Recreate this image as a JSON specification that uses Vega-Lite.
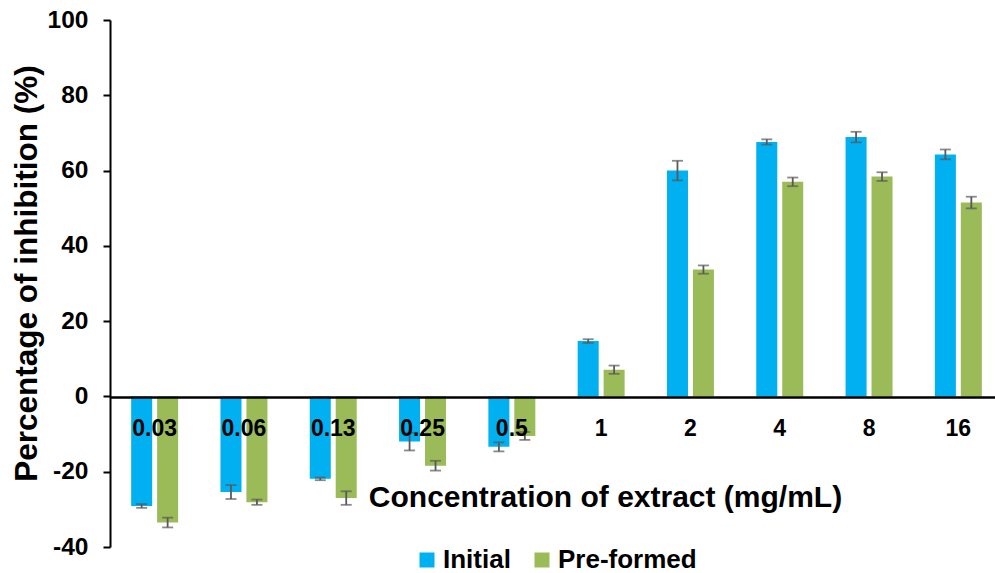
{
  "$schema": "https://vega.github.io/schema/vega-lite/v6.json",
  "width": 893,
  "height": 527,
  "autosize": {"type": "none"},
  "padding": {"left": 110, "top": 20, "right": 0, "bottom": 26},
  "background": "white",
  "config": {
    "view": {"stroke": null},
    "font": "Liberation Sans",
    "axis": {"grid": false, "labelFont": "Liberation Sans", "titleFont": "Liberation Sans", "labelFontWeight": "bold", "titleFontWeight": "bold", "labelColor": "black", "titleColor": "black", "domainColor": "black", "tickColor": "black"}
  },
  "data": {
    "values": [
      {"conc": "0.03", "group": "Initial", "value": -29.1, "lo": -29.6, "hi": -28.6},
      {"conc": "0.03", "group": "Pre-formed", "value": -33.5, "lo": -34.8, "hi": -32.2},
      {"conc": "0.06", "group": "Initial", "value": -25.4, "lo": -27.25, "hi": -23.55},
      {"conc": "0.06", "group": "Pre-formed", "value": -28.1, "lo": -28.8, "hi": -27.4},
      {"conc": "0.13", "group": "Initial", "value": -21.9, "lo": -22.25, "hi": -21.55},
      {"conc": "0.13", "group": "Pre-formed", "value": -27.0, "lo": -28.8, "hi": -25.2},
      {"conc": "0.25", "group": "Initial", "value": -12.0, "lo": -14.35, "hi": -9.65},
      {"conc": "0.25", "group": "Pre-formed", "value": -18.4, "lo": -19.7, "hi": -17.1},
      {"conc": "0.5", "group": "Initial", "value": -13.4, "lo": -14.6, "hi": -12.2},
      {"conc": "0.5", "group": "Pre-formed", "value": -10.5, "lo": -11.55, "hi": -9.45},
      {"conc": "1", "group": "Initial", "value": 14.7, "lo": 14.2, "hi": 15.2},
      {"conc": "1", "group": "Pre-formed", "value": 7.1, "lo": 6.0, "hi": 8.2},
      {"conc": "2", "group": "Initial", "value": 60.0, "lo": 57.4, "hi": 62.6},
      {"conc": "2", "group": "Pre-formed", "value": 33.7, "lo": 32.6, "hi": 34.8},
      {"conc": "4", "group": "Initial", "value": 67.6, "lo": 66.9, "hi": 68.3},
      {"conc": "4", "group": "Pre-formed", "value": 57.0, "lo": 55.85, "hi": 58.15},
      {"conc": "8", "group": "Initial", "value": 68.9, "lo": 67.5, "hi": 70.3},
      {"conc": "8", "group": "Pre-formed", "value": 58.4, "lo": 57.25, "hi": 59.55},
      {"conc": "16", "group": "Initial", "value": 64.3, "lo": 63.0, "hi": 65.6},
      {"conc": "16", "group": "Pre-formed", "value": 51.5, "lo": 49.95, "hi": 53.05}
    ]
  },
  "encoding": {
    "x": {
      "field": "conc", "type": "nominal", "sort": null,
      "scale": {"paddingInner": 0.474, "paddingOuter": 0.237},
      "axis": {
        "title": "Concentration of extract (mg/mL)",
        "labelAngle": 0, "labelFontSize": 23, "labelPadding": 20,
        "tickSize": 0, "domainWidth": 2.5, "offset": -150, "zindex": 1,
        "titleFontSize": 30, "titleX": 495, "titleY": 85, "titleBaseline": "top",
        "titleAlign": "center"
      }
    },
    "xOffset": {"field": "group", "type": "nominal", "sort": ["Initial", "Pre-formed"], "scale": {"paddingInner": 0.19, "paddingOuter": 0}}
  },
  "layer": [
    {
      "mark": {"type": "bar"},
      "encoding": {
        "y": {
          "field": "value", "type": "quantitative",
          "scale": {"domain": [-40, 100], "nice": false, "zero": false},
          "axis": {
            "title": "Percentage of inhibition (%)",
            "values": [-40, -20, 0, 20, 40, 60, 80, 100],
            "labelExpr": "'' + datum.value",
            "labelFontSize": 24.5, "labelPadding": 15, "tickSize": 7, "domainWidth": 2, "tickWidth": 2,
            "titleFontSize": 31.5, "titleX": -83, "titleY": 253, "titleBaseline": "middle", "titleAlign": "center", "titleAngle": -90
          }
        },
        "color": {
          "field": "group", "type": "nominal",
          "sort": ["Initial", "Pre-formed"],
          "scale": {"domain": ["Initial", "Pre-formed"], "range": ["#00B0F0", "#9BBB59"]},
          "legend": {
            "title": null, "orient": "none", "direction": "horizontal",
            "legendX": 304, "legendY": 527,
            "symbolType": "square", "symbolSize": 225, "symbolStrokeWidth": 0,
            "labelFontSize": 26, "labelFontWeight": "bold", "labelColor": "black", "labelFont": "Liberation Sans",
            "labelOffset": 3, "columnPadding": 18
          }
        }
      }
    },
    {
      "mark": {"type": "rule", "color": "#595959", "strokeWidth": 1.8},
      "encoding": {
        "y": {"field": "lo", "type": "quantitative"},
        "y2": {"field": "hi"}
      }
    },
    {
      "mark": {"type": "tick", "color": "#595959", "thickness": 1.8, "size": 11, "orient": "horizontal"},
      "encoding": {
        "y": {"field": "lo", "type": "quantitative"}
      }
    },
    {
      "mark": {"type": "tick", "color": "#595959", "thickness": 1.8, "size": 11, "orient": "horizontal"},
      "encoding": {
        "y": {"field": "hi", "type": "quantitative"}
      }
    }
  ]
}
